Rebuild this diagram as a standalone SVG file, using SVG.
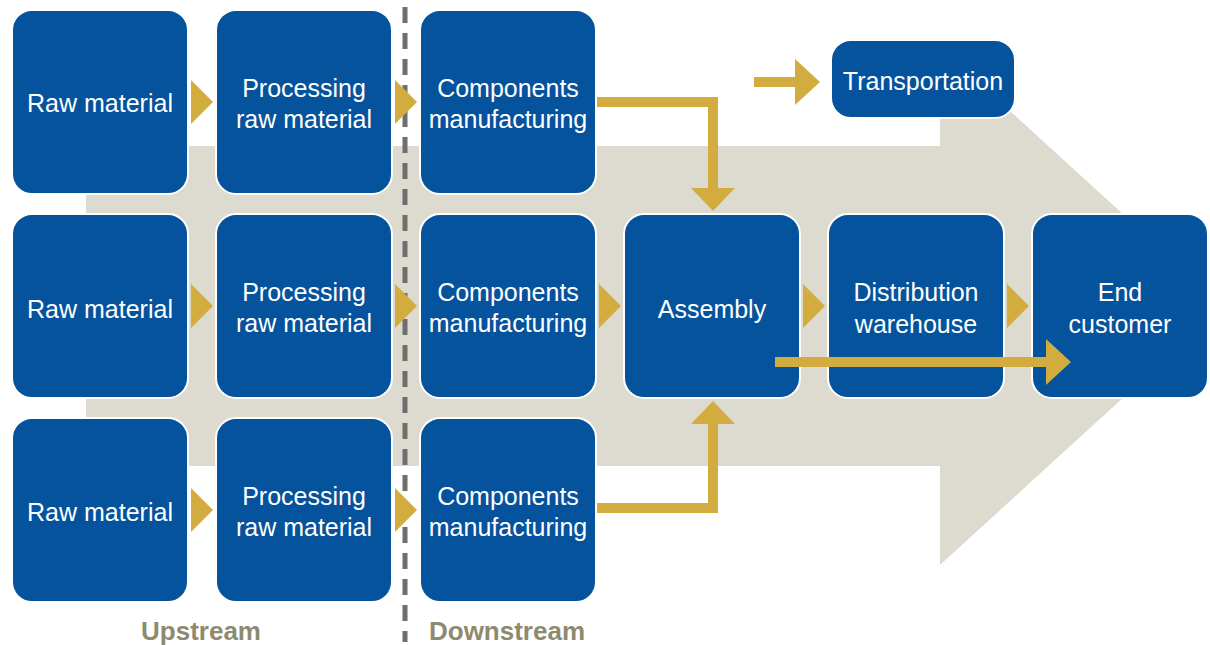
<svg xmlns="http://www.w3.org/2000/svg" width="1210" height="645" viewBox="0 0 1210 645">
<style>
.box{fill:#04539c;stroke:#ffffff;stroke-width:2}
.t{font-family:"Liberation Sans",Arial,sans-serif;font-size:25px;fill:#ffffff;text-anchor:middle}
.lbl{font-family:"Liberation Sans",Arial,sans-serif;font-size:26px;font-weight:bold;fill:#8e8a6e;text-anchor:middle}
.tri{fill:#d3ac3f}
.ln{fill:none;stroke:#d3ac3f;stroke-width:10}
</style>
<rect width="1210" height="645" fill="#ffffff"/>
<polygon id="flow-arrow" points="86,146 940,146 940,47 1204,288 1204,324 940,565 940,466 86,466" fill="#dddbcf"/>
<line id="divider" x1="405" y1="7" x2="405" y2="642" stroke="#6e6e6e" stroke-width="5" stroke-dasharray="16 10"/>
<g id="raw1"><rect class="box" x="12" y="10" width="176" height="184" rx="20"/><text class="t" x="100" y="112">Raw material</text></g>
<g id="proc1"><rect class="box" x="216" y="10" width="176" height="184" rx="20"/><text class="t" x="304" y="97">Processing</text><text class="t" x="304" y="128">raw material</text></g>
<g id="comp1"><rect class="box" x="420" y="10" width="176" height="184" rx="20"/><text class="t" x="508" y="97">Components</text><text class="t" x="508" y="128">manufacturing</text></g>
<g id="raw2"><rect class="box" x="12" y="214" width="176" height="184" rx="20"/><text class="t" x="100" y="318">Raw material</text></g>
<g id="proc2"><rect class="box" x="216" y="214" width="176" height="184" rx="20"/><text class="t" x="304" y="301">Processing</text><text class="t" x="304" y="332">raw material</text></g>
<g id="comp2"><rect class="box" x="420" y="214" width="176" height="184" rx="20"/><text class="t" x="508" y="301">Components</text><text class="t" x="508" y="332">manufacturing</text></g>
<g id="raw3"><rect class="box" x="12" y="418" width="176" height="184" rx="20"/><text class="t" x="100" y="521">Raw material</text></g>
<g id="proc3"><rect class="box" x="216" y="418" width="176" height="184" rx="20"/><text class="t" x="304" y="505">Processing</text><text class="t" x="304" y="536">raw material</text></g>
<g id="comp3"><rect class="box" x="420" y="418" width="176" height="184" rx="20"/><text class="t" x="508" y="505">Components</text><text class="t" x="508" y="536">manufacturing</text></g>
<g id="assembly"><rect class="box" x="624" y="214" width="176" height="184" rx="20"/><text class="t" x="712" y="318">Assembly</text></g>
<g id="distribution"><rect class="box" x="828" y="214" width="176" height="184" rx="20"/><text class="t" x="916" y="301">Distribution</text><text class="t" x="916" y="333">warehouse</text></g>
<g id="customer"><rect class="box" x="1032" y="214" width="176" height="184" rx="20"/><text class="t" x="1120" y="301">End</text><text class="t" x="1120" y="333">customer</text></g>
<g id="transportation"><rect class="box" x="831" y="40" width="184" height="78" rx="20"/><text class="t" x="923" y="90">Transportation</text></g>
<g id="connectors">
<polygon class="tri" points="191,80 213,102 191,124"/>
<polygon class="tri" points="395,80 417,102 395,124"/>
<polygon class="tri" points="191,284 213,306 191,328"/>
<polygon class="tri" points="395,284 417,306 395,328"/>
<polygon class="tri" points="599,284 621,306 599,328"/>
<polygon class="tri" points="803,284 825,306 803,328"/>
<polygon class="tri" points="1007,284 1029,306 1007,328"/>
<polygon class="tri" points="191,488 213,510 191,532"/>
<polygon class="tri" points="395,488 417,510 395,532"/>
<path class="ln" d="M597,102 H713 V190"/>
<polygon class="tri" points="691,188 735,188 713,211"/>
<path class="ln" d="M597,508 H713 V422"/>
<polygon class="tri" points="691,424 735,424 713,401"/>
<path class="ln" d="M775,362 H1048"/>
<polygon class="tri" points="1046,339 1071,362 1046,385"/>
<path class="ln" d="M754,82 H797"/>
<polygon class="tri" points="795,59 820,82 795,105"/>
</g>
<text class="lbl" x="201" y="640">Upstream</text>
<text class="lbl" x="507" y="640">Downstream</text>
</svg>
